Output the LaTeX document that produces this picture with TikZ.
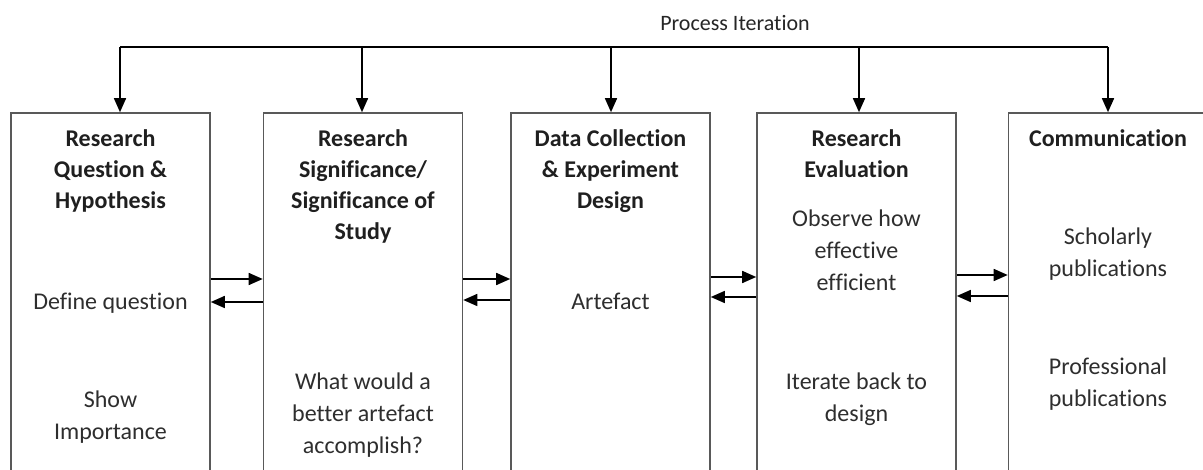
\documentclass[tikz,border=0pt]{standalone}
\usepackage{fontspec}
\setmainfont{Carlito}[Ligatures=NoCommon]
\usetikzlibrary{arrows.meta}
\tikzset{
  stage/.style={draw=black!65, line width=1.6pt, minimum width=199pt, minimum height=420pt, inner sep=0pt},
  head/.style={font=\fontsize{24}{31}\selectfont\bfseries, align=center, text=black!88, inner sep=0pt, anchor=north},
  body/.style={font=\fontsize{24}{32}\selectfont, align=center, text=black!82, inner sep=0pt},
  flow/.style={line width=1.6pt, -{Triangle[length=14pt, width=12pt]}},
  link/.style={line width=1.6pt}
}
\begin{document}
\begin{tikzpicture}[x=1pt, y=-1pt]
\useasboundingbox (0,0) rectangle (1203,470);
\clip (0,0) rectangle (1203,470);
\fill[white] (0,0) rectangle (1203,470);

% stage boxes, open towards the bottom edge
\node[stage] (b1) at (110.5,323) {};
\node[stage] (b2) at (363,323) {};
\node[stage] (b3) at (610.5,323) {};
\node[stage] (b4) at (856.5,323) {};
\node[stage] (b5) at (1108,323) {};

% headings
\node[head] (h1) at (110.5,129) {Research\\Question \&\\Hypothesis};
\node[head] (h2) at (363,129) {Research\\Significance/\\Significance of\\Study};
\node[head] (h3) at (610.5,129) {Data Collection\\\& Experiment\\Design};
\node[head] (h4) at (856.5,129) {Research\\Evaluation};
\node[head] (h5) at (1108,129) {Communication};

% body texts
\node[body] (t1a) at (110.5,303) {Define question};
\node[body] (t1b) at (110.5,417.5) {Show\\Importance};
\node[body] (t2a) at (363,415) {What would a\\better artefact\\accomplish?};
\node[body] (t3a) at (610.5,301) {Artefact};
\node[body] (t4a) at (856.5,250) {Observe how\\effective\\efficient};
\node[body] (t4b) at (856.5,399) {Iterate back to\\design};
\node[body] (t5a) at (1108,254) {Scholarly\\publications};
\node[body] (t5b) at (1108,384) {Professional\\publications};

% process iteration feedback bus
\node[font=\fontsize{22}{24}\selectfont, text=black!85, inner sep=0pt] (pi) at (735,23) {Process Iteration};
\coordinate (p1) at (120,47);
\coordinate (p2) at (362,47);
\coordinate (p3) at (611,47);
\coordinate (p4) at (859,47);
\coordinate (p5) at (1108,47);
\draw[link] (p1) -- (p5);
\draw[flow] (p1) -- (p1 |- b1.north);
\draw[flow] (p2) -- (p2 |- b2.north);
\draw[flow] (p3) -- (p3 |- b3.north);
\draw[flow] (p4) -- (p4 |- b4.north);
\draw[flow] (p5) -- (p5 |- b5.north);

% forward and backward links between neighbouring stages
\draw[flow] (b1.east |- 0,279) -- (b2.west |- 0,279);
\draw[flow] (b2.west |- 0,302) -- (b1.east |- 0,302);
\draw[flow] (b2.east |- 0,279) -- (b3.west |- 0,279);
\draw[flow] (b3.west |- 0,300) -- (b2.east |- 0,300);
\draw[flow] (b3.east |- 0,277) -- (b4.west |- 0,277);
\draw[flow] (b4.west |- 0,297) -- (b3.east |- 0,297);
\draw[flow] (b4.east |- 0,275) -- (b5.west |- 0,275);
\draw[flow] (b5.west |- 0,296) -- (b4.east |- 0,296);
\end{tikzpicture}
\end{document}
